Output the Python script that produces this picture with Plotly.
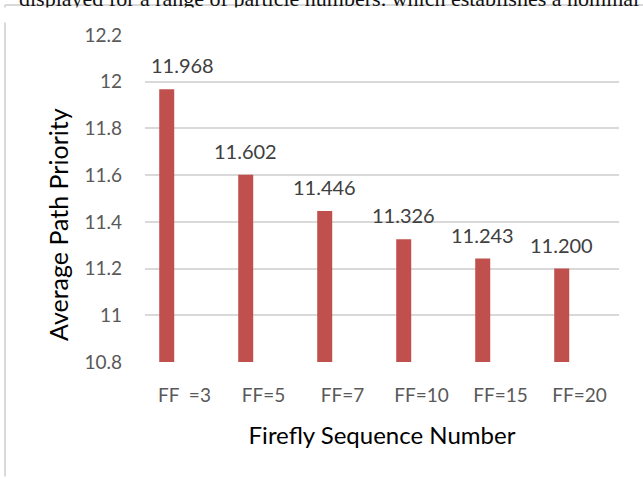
import plotly.graph_objects as go

# values
categories = ["FF  =3", "FF=5", "FF=7", "FF=10", "FF=15", "FF=20"]
priority = [11.968, 11.602, 11.446, 11.326, 11.243, 11.200]
value_labels = ["11.968", "11.602", "11.446", "11.326", "11.243", "11.200"]
y_ticks = [10.8, 11, 11.2, 11.4, 11.6, 11.8, 12, 12.2]
y_tick_labels = ["10.8", "11", "11.2", "11.4", "11.6", "11.8", "12", "12.2"]

FONT = "Lato, 'Open Sans', sans-serif"
BAR_RED = "#C0504D"
GRID = "#D9D9D9"

fig = go.Figure()
fig.add_trace(go.Bar(
  x=categories, y=priority,
  offset=-0.32, width=0.19,
  marker=dict(color=BAR_RED, line=dict(width=0)),
  hoverinfo="x+y",
))

# data labels (Excel moved the first one a bit to the right)
for i, (c, v, t) in enumerate(zip(categories, priority, value_labels)):
  fig.add_annotation(
    x=c, y=v, text=t, showarrow=False,
    xref="x", yref="y", yanchor="middle",
    xshift=-2 if i == 0 else -18, yshift=24,
    font=dict(family=FONT, size=20, color="#404040"),
  )

# y title sits a little below the middle of the axis in the original
fig.add_annotation(
  text="Average Path Priority", textangle=-90, showarrow=False,
  xref="paper", yref="paper", x=-0.1835, y=0.419, xanchor="center", yanchor="middle",
  font=dict(family=FONT, size=25, color="#000000"),
)

# cropped sentence from the page above the chart
fig.add_annotation(
  text="displayed for a range of particle numbers. which establishes a nominal",
  xref="paper", yref="paper", x=-0.27, y=1.113, xanchor="left", yanchor="middle",
  showarrow=False, font=dict(family="'Liberation Serif', 'Times New Roman', serif", size=22, color="#111111"),
)
# the chart picture hides the descenders of that sentence
fig.add_annotation(
  text=" ", xref="paper", yref="paper", x=-0.31, y=1.0857, xanchor="left", yanchor="top",
  width=700, height=14, bgcolor="white", borderpad=0, showarrow=False,
)

# light frame of the embedded chart
fig.add_shape(type="line", xref="paper", yref="paper", x0=-0.2954, x1=1.06, y0=1.0917, y1=1.0917,
              line=dict(color=GRID, width=2))
fig.add_shape(type="line", xref="paper", yref="paper", x0=-0.2954, x1=-0.2954, y0=1.0917, y1=-0.35,
              line=dict(color=GRID, width=2))

fig.update_layout(
  width=643, height=479,
  margin=dict(l=145, r=24, t=35, b=117),
  paper_bgcolor="white", plot_bgcolor="white",
  showlegend=False,
  font=dict(family=FONT, color="#595959"),
  xaxis=dict(
    showgrid=False, showline=False, zeroline=False, ticks="",
    ticklabelstandoff=20,
    tickfont=dict(family=FONT, size=19, color="#595959"),
    title=dict(text="Firefly Sequence Number", standoff=22,
               font=dict(family=FONT, size=24, color="#000000")),
  ),
  yaxis=dict(
    range=[10.8, 12.2], tickvals=y_ticks, ticktext=y_tick_labels,
    showgrid=True, gridcolor=GRID, gridwidth=2,
    zeroline=False, showline=False, ticks="",
    ticklabelstandoff=22,
    tickfont=dict(family=FONT, size=19, color="#595959"),
  ),
)

# page has an 8px body margin by default; drop it so the figure fills the window
fig.write_html("out.html", config={"displayModeBar": False},
               post_script="document.body.style.margin='0';")
